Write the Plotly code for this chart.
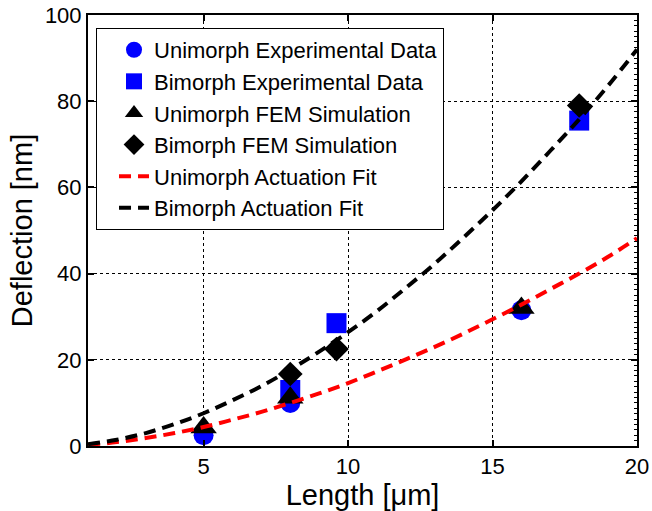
import plotly.graph_objects as go

# ---- data ----
uni_exp_x = [5, 8, 16]
uni_exp_y = [2.5, 10, 31.5]
bi_exp_x = [8, 9.6, 18]
bi_exp_y = [13, 28.5, 75.5]
uni_fem_x = [5, 8, 16]
uni_fem_y = [4.3, 11.2, 32]
bi_fem_x = [8, 9.6, 18]
bi_fem_y = [16.7, 22.5, 79]

fit_x = [1, 2, 3, 4, 5, 6, 7, 8, 9, 10, 11, 12, 13, 14, 15, 16, 17, 18, 19, 20]
uni_fit_y = [0.28, 0.9, 1.85, 3.0, 4.4, 6.1, 7.9, 10.0, 12.2, 14.6, 17.3, 20.1,
             23.0, 26.1, 29.4, 32.8, 36.4, 40.0, 43.9, 48.2]
bi_fit_y = [0.42, 1.46, 3.0, 5.1, 7.6, 10.6, 13.9, 17.7, 21.9, 26.4, 31.3, 36.7,
            42.3, 48.4, 54.7, 61.4, 68.5, 75.8, 83.6, 92.0]

x_ticks = [5, 10, 15, 20]
y_ticks = [0, 20, 40, 60, 80, 100]

FONT = "Liberation Sans, Arial, sans-serif"

fig = go.Figure()
fig.add_trace(go.Scatter(x=uni_exp_x, y=uni_exp_y, mode="markers",
                         name="Unimorph Experimental Data", legendgroup="a",
                         marker=dict(symbol="circle", size=20, color="#0000ff")))
fig.add_trace(go.Scatter(x=bi_exp_x, y=bi_exp_y, mode="markers",
                         name="Bimorph Experimental Data", legendgroup="b",
                         marker=dict(symbol="square", size=20, color="#0000ff")))
fig.add_trace(go.Scatter(x=uni_fem_x, y=uni_fem_y, mode="markers",
                         name="Unimorph FEM Simulation", legendgroup="c",
                         marker=dict(symbol="triangle-up", size=23, color="black")))
fig.add_trace(go.Scatter(x=bi_fem_x, y=bi_fem_y, mode="markers",
                         name="Bimorph FEM Simulation", legendgroup="d",
                         marker=dict(symbol="diamond", size=19, color="black")))
fig.add_trace(go.Scatter(x=fit_x, y=uni_fit_y, mode="lines",
                         name="Unimorph Actuation Fit", legendgroup="e",
                         line=dict(color="#ff0000", width=4, dash="12px,7px", shape="spline")))
fig.add_trace(go.Scatter(x=fit_x, y=bi_fit_y, mode="lines",
                         name="Bimorph Actuation Fit", legendgroup="f",
                         line=dict(color="black", width=4, dash="12px,7px", shape="spline")))
# invisible helper trace so the right-hand minor-tick axis is drawn
fig.add_trace(go.Scatter(x=[None], y=[None], yaxis="y2", showlegend=False,
                         hoverinfo="skip", mode="markers"))

axis_common = dict(
    showline=True, linecolor="black", linewidth=2, mirror="ticks",
    ticks="inside", ticklen=6, tickwidth=1.5, tickcolor="black",
    showgrid=True, gridcolor="black", gridwidth=1, griddash="dot",
    zeroline=False, automargin=False,
    tickfont=dict(size=22, color="black", family=FONT),
)

fig.update_layout(
    width=652, height=511,
    margin=dict(l=88, r=15, t=15, b=65),
    paper_bgcolor="white", plot_bgcolor="white",
    font=dict(family=FONT, color="black"),
    xaxis=dict(range=[1, 20], tickvals=x_ticks,
               title=dict(text="Length [\u03bcm]", font=dict(size=29, family=FONT), standoff=0),
               **axis_common),
    yaxis=dict(range=[0, 100], tickvals=y_ticks,
               title=dict(text="Deflection [nm]", font=dict(size=29, family=FONT), standoff=4),
               **axis_common),
    yaxis2=dict(range=[0, 100], overlaying="y", side="right", showline=False,
                showgrid=False, zeroline=False, showticklabels=False,
                tickmode="linear", tick0=0, dtick=20,
                ticks="inside", ticklen=6, tickcolor="black",
                automargin=False,
                minor=dict(ticks="inside", ticklen=3, tickcolor="black",
                           tickmode="linear", tick0=0, dtick=1.25, showgrid=False)),
    legend=dict(x=0.0146, y=0.97, xanchor="left", yanchor="top",
                bgcolor="white", bordercolor="black", borderwidth=1,
                font=dict(size=22, color="black", family=FONT),
                tracegroupgap=0, indentation=17, itemsizing="trace"),
    showlegend=True,
)

fig.write_html("out.html", config={"displayModeBar": False},
               post_script="document.body.style.margin='0';document.body.style.padding='0';")
